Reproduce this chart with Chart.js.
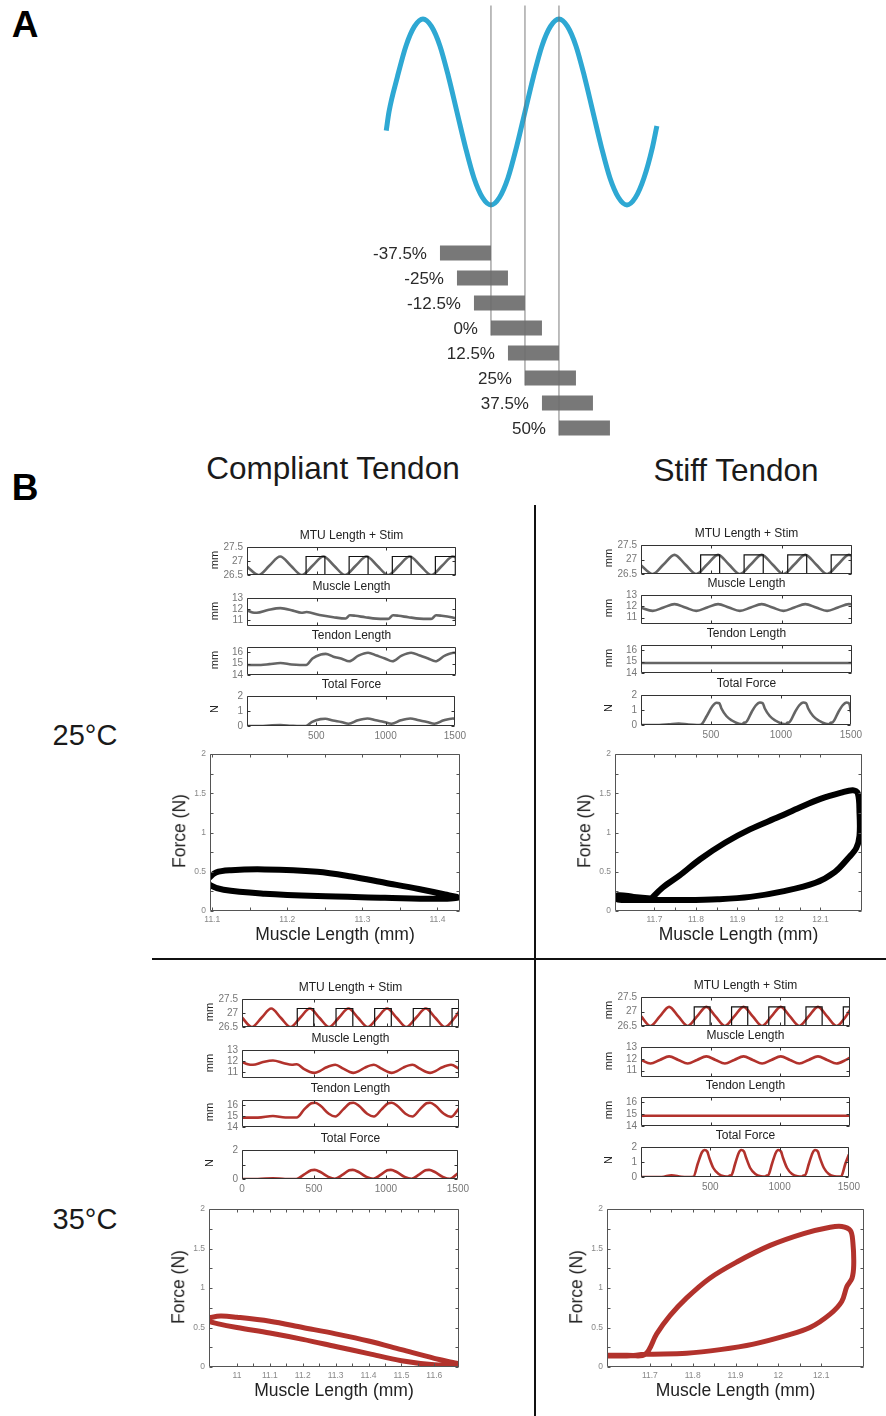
<!DOCTYPE html>
<html>
<head>
<meta charset="utf-8">
<script src="https://cdn.jsdelivr.net/npm/chart.js"></script>
<style>
body { margin: 0; background: #fff; }
#page { position: relative; width: 886px; height: 1416px; overflow: hidden; font-family: "Liberation Sans", Arial, sans-serif; color: #1a1a1a; }
.cv { position: absolute; }
.txt { position: absolute; white-space: nowrap; line-height: 1; }
.rule { position: absolute; background: #111; }
</style>
</head>
<body>
<div id="page"></div>
<script>
// ---------- panel A : stimulus phase ----------
var phaseX = [-77, -75, -68.75, -62.5, -56.25, -50, -43.75, -37.5, -31.25, -25, -18.75, -12.5, -6.25, 0, 6.25, 12.5, 18.75, 25, 31.25, 37.5, 43.75, 50, 56.25, 62.5, 68.75, 75, 81.25, 87.5, 93.75, 100, 106.25, 112.5, 118.75, 122];
var sineY = [-0.2, 0, 0.38, 0.71, 0.92, 1, 0.92, 0.71, 0.38, 0, -0.38, -0.71, -0.92, -1, -0.92, -0.71, -0.38, 0, 0.38, 0.71, 0.92, 1, 0.92, 0.71, 0.38, 0, -0.38, -0.71, -0.92, -1, -0.92, -0.71, -0.38, -0.15];
var offsets = [-37.5, -25, -12.5, 0, 12.5, 25, 37.5, 50];
var offsetLabels = ['-37.5%', '-25%', '-12.5%', '0%', '12.5%', '25%', '37.5%', '50%'];
var stimDuty = 37.5;
var markers = [0, 25, 50];

// ---------- panel B : time series (ms) ----------
var timeTicks = [0, 500, 1000, 1500];

// MTU length, 25 C and 35 C
var t25 = [0, 83, 160, 238, 315, 393, 470, 548, 625, 703, 780, 858, 935, 1013, 1090, 1168, 1245, 1323, 1400, 1478, 1500];
var mtu25 = [26.8, 26.5, 26.83, 27.16, 26.83, 26.5, 26.83, 27.16, 26.83, 26.5, 26.83, 27.16, 26.83, 26.5, 26.83, 27.16, 26.83, 26.5, 26.83, 27.16, 27.13];
var t35 = [0, 68, 135, 202, 268, 335, 402, 469, 535, 602, 669, 736, 802, 869, 936, 1003, 1069, 1136, 1203, 1270, 1336, 1403, 1470, 1500];
var mtu35 = [26.84, 26.5, 26.83, 27.16, 26.83, 26.5, 26.83, 27.16, 26.83, 26.5, 26.83, 27.16, 26.83, 26.5, 26.83, 27.16, 26.83, 26.5, 26.83, 27.16, 26.83, 26.5, 26.83, 27.05];

// stimulation on / off times
var stimOn25 = [424, 733, 1043, 1352];
var stimOff25 = [559, 869, 1178, 1495];
var stimOn35 = [382, 650, 917, 1184, 1452];
var stimOff35 = [496, 766, 1032, 1300];
var stimLow = 26.5, stimHigh = 27.16;

// 25 C compliant tendon
var tlMuscleT = [0, 40, 70, 150, 240, 330, 390, 428, 520, 620, 708, 738, 778, 848, 928, 998, 1018, 1048, 1088, 1158, 1238, 1308, 1327, 1357, 1397, 1467, 1500];
var tlMuscle = [11.9, 11.68, 11.65, 11.9, 12.08, 11.85, 11.65, 11.72, 11.45, 11.25, 11.13, 11.43, 11.38, 11.25, 11.12, 11.1, 11.12, 11.43, 11.38, 11.25, 11.12, 11.1, 11.12, 11.43, 11.38, 11.25, 11.15];
var tlTendonT = [0, 100, 160, 240, 320, 380, 424, 470, 530, 565, 620, 680, 733, 800, 869, 930, 990, 1043, 1110, 1178, 1240, 1300, 1352, 1420, 1485, 1500];
var tlTendon = [14.88, 14.88, 14.95, 15.05, 14.92, 14.88, 14.88, 15.45, 15.8, 15.85, 15.6, 15.42, 15.2, 15.7, 15.95, 15.7, 15.45, 15.2, 15.7, 15.95, 15.7, 15.45, 15.2, 15.7, 15.95, 15.93];
var tlForce = [0, 0, 0.03, 0.06, 0.02, 0, 0, 0.28, 0.46, 0.48, 0.36, 0.27, 0.15, 0.38, 0.5, 0.38, 0.27, 0.15, 0.38, 0.5, 0.38, 0.27, 0.15, 0.38, 0.5, 0.49];

// 25 C stiff tendon
var trMuscle = [11.88, 11.6, 11.9, 12.2, 11.9, 11.6, 11.9, 12.2, 11.9, 11.6, 11.9, 12.2, 11.9, 11.6, 11.9, 12.2, 11.9, 11.6, 11.9, 12.2, 12.18];
var stiffTendonT = [0, 1500];
var stiffTendon = [14.87, 14.87];
var trForceT = [0, 130, 200, 270, 340, 400, 428, 470, 510, 540, 560, 575, 610, 650, 700, 725, 735, 750, 790, 820, 850, 870, 885, 920, 960, 1010, 1035, 1045, 1060, 1100, 1130, 1160, 1180, 1195, 1230, 1270, 1320, 1345, 1355, 1370, 1410, 1440, 1470, 1490, 1500];
var trForce = [0, 0, 0.05, 0.1, 0.03, 0, 0.02, 0.6, 1.25, 1.48, 1.45, 1.1, 0.6, 0.3, 0.08, 0.05, 0.15, 0.18, 0.85, 1.3, 1.5, 1.45, 1.1, 0.6, 0.3, 0.08, 0.05, 0.15, 0.18, 0.85, 1.3, 1.5, 1.45, 1.1, 0.6, 0.3, 0.08, 0.05, 0.15, 0.18, 0.85, 1.3, 1.5, 1.4, 0.85];

// 35 C compliant tendon
var blMuscleT = [0, 40, 76, 140, 214, 290, 345, 378, 430, 470, 500, 540, 580, 645, 700, 745, 770, 810, 850, 912, 965, 1010, 1035, 1075, 1115, 1178, 1230, 1275, 1300, 1340, 1380, 1445, 1500];
var blMuscle = [11.9, 11.7, 11.65, 11.88, 12.05, 11.8, 11.65, 11.7, 11.25, 11.0, 10.92, 11.1, 11.4, 11.65, 11.3, 11.0, 10.92, 11.1, 11.4, 11.65, 11.3, 11.0, 10.92, 11.1, 11.4, 11.65, 11.3, 11.0, 10.92, 11.1, 11.4, 11.65, 11.3];
var blTendonT = [0, 110, 214, 300, 378, 430, 480, 505, 545, 600, 645, 700, 745, 770, 810, 865, 912, 965, 1010, 1035, 1075, 1130, 1178, 1230, 1275, 1300, 1340, 1395, 1445, 1500];
var blTendon = [14.85, 14.85, 15.0, 14.86, 14.86, 15.6, 16.15, 16.2, 15.9, 15.2, 14.95, 15.6, 16.15, 16.2, 15.9, 15.2, 14.95, 15.6, 16.15, 16.2, 15.9, 15.2, 14.95, 15.6, 16.15, 16.2, 15.9, 15.2, 14.92, 15.7];
var blForce = [0, 0, 0.05, 0, 0, 0.3, 0.6, 0.63, 0.48, 0.15, 0.02, 0.3, 0.6, 0.63, 0.48, 0.15, 0.02, 0.3, 0.6, 0.63, 0.48, 0.15, 0.02, 0.3, 0.6, 0.63, 0.48, 0.15, 0.01, 0.4];

// 35 C stiff tendon
var brMuscle = [11.9, 11.6, 11.9, 12.2, 11.9, 11.6, 11.9, 12.2, 11.9, 11.6, 11.9, 12.2, 11.9, 11.6, 11.9, 12.2, 11.9, 11.6, 11.9, 12.2, 11.9, 11.6, 11.9, 12.1];
var brForceT = [0, 150, 220, 290, 340, 378, 410, 440, 458, 478, 492, 522, 560, 600, 630, 640, 652, 680, 705, 723, 743, 758, 788, 825, 865, 900, 907, 918, 946, 972, 990, 1010, 1024, 1054, 1090, 1130, 1165, 1172, 1184, 1212, 1238, 1256, 1276, 1290, 1320, 1355, 1395, 1435, 1445, 1475, 1500];
var brForce = [0, 0, 0.12, 0.02, 0, 0.02, 0.9, 1.65, 1.8, 1.7, 1.3, 0.6, 0.2, 0.05, 0.03, 0.1, 0.12, 0.9, 1.6, 1.8, 1.7, 1.3, 0.6, 0.2, 0.05, 0.03, 0.1, 0.12, 0.9, 1.6, 1.8, 1.7, 1.3, 0.6, 0.2, 0.05, 0.03, 0.1, 0.12, 0.9, 1.6, 1.8, 1.7, 1.3, 0.6, 0.2, 0.05, 0.03, 0.05, 0.9, 1.5];

// ---------- work loops (muscle length mm, force N) ----------
var tlLoopX = [11.093, 11.105, 11.125, 11.17, 11.24, 11.285, 11.33, 11.375, 11.41, 11.427, 11.395, 11.33, 11.24, 11.17, 11.115, 11.097, 11.093];
var tlLoopY = [0.4, 0.49, 0.52, 0.53, 0.5, 0.44, 0.36, 0.28, 0.21, 0.17, 0.155, 0.17, 0.19, 0.22, 0.27, 0.33, 0.4];
var trLoopX = [11.691, 11.72, 11.76, 11.81, 11.87, 11.93, 12.0, 12.05, 12.1, 12.15, 12.178, 12.19, 12.194, 12.194, 12.186, 12.166, 12.135, 12.088, 12.009, 11.931, 11.852, 11.774, 11.691, 11.64, 11.61, 11.612, 11.65, 11.691];
var trLoopY = [0.15, 0.3, 0.45, 0.66, 0.87, 1.04, 1.2, 1.32, 1.43, 1.51, 1.54, 1.5, 1.25, 0.96, 0.8, 0.67, 0.5, 0.36, 0.25, 0.18, 0.15, 0.14, 0.14, 0.14, 0.15, 0.2, 0.18, 0.16];
var blLoopX = [10.912, 10.95, 11.0, 11.1, 11.2, 11.3, 11.4, 11.5, 11.6, 11.68, 11.6, 11.5, 11.4, 11.3, 11.2, 11.1, 11.0, 10.94, 10.915, 10.912];
var blLoopY = [0.62, 0.645, 0.63, 0.58, 0.5, 0.42, 0.33, 0.22, 0.11, 0.03, 0.03, 0.08, 0.17, 0.26, 0.35, 0.43, 0.5, 0.55, 0.58, 0.62];
var brLoopX = [11.6, 11.646, 11.689, 11.716, 11.747, 11.786, 11.84, 11.903, 11.981, 12.059, 12.121, 12.148, 12.168, 12.174, 12.176, 12.172, 12.16, 12.148, 12.121, 12.074, 12.02, 11.942, 11.864, 11.786, 11.689, 11.646, 11.6];
var brLoopY = [0.15, 0.15, 0.16, 0.42, 0.65, 0.875, 1.125, 1.33, 1.54, 1.69, 1.77, 1.78, 1.73, 1.58, 1.29, 1.125, 1.02, 0.83, 0.67, 0.5, 0.4, 0.29, 0.22, 0.175, 0.16, 0.14, 0.14];
var forceTicks = [0, 0.5, 1, 1.5, 2];

var GRAY = '#656565', RED = '#b2322c';

Chart.defaults.font.family = '"Liberation Sans", Arial, sans-serif';
Chart.defaults.animation = false;
Chart.defaults.plugins.legend.display = false;
Chart.defaults.plugins.tooltip.enabled = false;
Chart.defaults.elements.point.radius = 0;

// box round the plot with small ticks pointing inwards (matlab style)
Chart.register({
  id: 'frame',
  afterDatasetsDraw: function (chart, args, o) {
    if (!o || !o.color) return;
    var a = chart.chartArea, ctx = chart.ctx, sx = chart.scales.x, sy = chart.scales.y;
    var l = Math.round(a.left) + 0.5, r = Math.round(a.right) - 0.5, t = Math.round(a.top) + 0.5, b = Math.round(a.bottom) - 0.5;
    ctx.save();
    ctx.strokeStyle = o.color;
    ctx.lineWidth = 1;
    ctx.beginPath();
    ctx.rect(l, t, r - l, b - t);
    o.xTicks.forEach(function (v) {
      var p = Math.round(sx.getPixelForValue(v)) + 0.5;
      ctx.moveTo(p, b); ctx.lineTo(p, b - o.len);
      ctx.moveTo(p, t); ctx.lineTo(p, t + o.len);
    });
    o.yTicks.forEach(function (v) {
      var p = Math.round(sy.getPixelForValue(v)) + 0.5;
      ctx.moveTo(l, p); ctx.lineTo(l + o.len, p);
      ctx.moveTo(r, p); ctx.lineTo(r - o.len, p);
    });
    ctx.stroke();
    ctx.restore();
  }
});

var page = document.getElementById('page');

function addText(s, x, y, size, extra) {
  extra = extra || {};
  var d = document.createElement('div');
  d.className = 'txt';
  d.textContent = s;
  d.style.left = x + 'px';
  d.style.top = y + 'px';
  d.style.fontSize = size + 'px';
  d.style.transform = 'translate(-50%,-50%)' + (extra.rotate ? ' rotate(-90deg)' : '');
  if (extra.bold) d.style.fontWeight = 'bold';
  if (extra.color) d.style.color = extra.color;
  page.appendChild(d);
}

function addRule(l, t, w, h) {
  var d = document.createElement('div');
  d.className = 'rule';
  d.style.left = l + 'px'; d.style.top = t + 'px';
  d.style.width = w + 'px'; d.style.height = h + 'px';
  page.appendChild(d);
}

function addCanvas(l, t, w, h) {
  var d = document.createElement('div');
  d.className = 'cv';
  d.style.left = l + 'px'; d.style.top = t + 'px';
  d.style.width = w + 'px'; d.style.height = h + 'px';
  var c = document.createElement('canvas');
  d.appendChild(c);
  page.appendChild(d);
  return c;
}

function pts(xs, ys) {
  return xs.map(function (x, i) { return { x: x, y: ys[i] }; });
}

function stimPts(on, off) {
  var p = [{ x: 0, y: stimLow }];
  on.forEach(function (t, i) {
    p.push({ x: t, y: stimLow }, { x: t, y: stimHigh });
    if (i < off.length) p.push({ x: off[i], y: stimHigh }, { x: off[i], y: stimLow });
    else p.push({ x: 1500, y: stimHigh });
  });
  if (on.length === off.length) p.push({ x: 1500, y: stimLow });
  return p;
}

function series(xs, ys, color) {
  return { data: pts(xs, ys), borderColor: color, borderWidth: 2.6, cubicInterpolationMode: 'monotone' };
}

function mids(arr) {
  var out = arr.slice();
  for (var i = 0; i < arr.length - 1; i++) out.push((arr[i] + arr[i + 1]) / 2);
  return out;
}

function tickList(vals) {
  return function (s) { s.ticks = vals.map(function (v) { return { value: v }; }); };
}

function smallPlot(box, yr, yTicks, sets, title, yTitle, xLabels, showZero) {
  var yW = 40, padT = 6, padR = 14, padB = 8, xH = xLabels ? 13 : 1;
  var c = addCanvas(box[0] - yW, box[2] - padT, box[1] - box[0] + yW + padR, box[3] - box[2] + padT + xH + padB);
  new Chart(c, {
    type: 'line',
    data: { datasets: sets },
    options: {
      responsive: true,
      maintainAspectRatio: false,
      layout: { padding: { left: 0, right: padR, top: padT, bottom: padB } },
      plugins: { frame: { color: '#333', len: 3, xTicks: [500, 1000], yTicks: yTicks } },
      scales: {
        x: {
          type: 'linear', min: 0, max: 1500,
          grid: { display: false, drawTicks: false }, border: { display: false },
          afterBuildTicks: tickList(timeTicks),
          ticks: {
            display: !!xLabels, padding: 4, color: '#777', font: { size: 10 }, maxRotation: 0, autoSkip: false,
            callback: function (v) { return (v === 0 && !showZero) ? '' : String(v); }
          },
          afterFit: function (s) { s.height = xH; }
        },
        y: {
          min: yr[0], max: yr[1],
          grid: { display: false, drawTicks: false }, border: { display: false },
          afterBuildTicks: tickList(yTicks),
          ticks: { padding: 4, color: '#777', font: { size: 10 }, callback: function (v) { return String(v); } },
          afterFit: function (s) { s.width = yW; }
        }
      }
    }
  });
  addText(title, (box[0] + box[1]) / 2, box[2] - 8.5, 12, { color: '#222' });
  addText(yTitle, box[0] - 33, (box[2] + box[3]) / 2, 11, { rotate: true, color: '#222' });
}

function loopPlot(box, xr, xTicks, lx, ly, color, width) {
  var yW = 22, padT = 6, padR = 10, padB = 6, xH = 14;
  var c = addCanvas(box[0] - yW, box[2] - padT, box[1] - box[0] + yW + padR, box[3] - box[2] + padT + xH + padB);
  new Chart(c, {
    type: 'line',
    data: { datasets: [{ data: pts(lx, ly), borderColor: color, borderWidth: width, tension: 0.35, borderJoinStyle: 'round', borderCapStyle: 'round' }] },
    options: {
      responsive: true,
      maintainAspectRatio: false,
      layout: { padding: { left: 0, right: padR, top: padT, bottom: padB } },
      plugins: { frame: { color: '#555', len: 3, xTicks: mids(xTicks), yTicks: mids(forceTicks) } },
      scales: {
        x: {
          type: 'linear', min: xr[0], max: xr[1],
          grid: { display: false, drawTicks: false }, border: { display: false },
          afterBuildTicks: tickList(xTicks),
          ticks: { display: true, padding: 4, color: '#888', font: { size: 8.5 }, maxRotation: 0, autoSkip: false, callback: function (v) { return String(v); } },
          afterFit: function (s) { s.height = xH; }
        },
        y: {
          min: 0, max: 2,
          grid: { display: false, drawTicks: false }, border: { display: false },
          afterBuildTicks: tickList(forceTicks),
          ticks: { padding: 4, color: '#888', font: { size: 8.5 }, callback: function (v) { return String(v); } },
          afterFit: function (s) { s.width = yW; }
        }
      }
    }
  });
  addText('Force (N)', box[0] - 30, (box[2] + box[3]) / 2, 17.5, { rotate: true, color: '#222' });
  addText('Muscle Length (mm)', (box[0] + box[1]) / 2, box[3] + 24, 17.5, { color: '#222' });
}

// ---------- panel A chart ----------
(function () {
  var c = addCanvas(360, 0, 300, 445);
  var sets = [];
  markers.forEach(function (m) {
    var i = offsets.indexOf(m);
    sets.push({ data: [{ x: m, y: -9.9 }, { x: m, y: i + 0.3 }], yAxisID: 'yb', borderColor: 'rgba(110,110,110,0.75)', borderWidth: 1.2 });
  });
  sets.push({ data: pts(phaseX, sineY), yAxisID: 'y', borderColor: '#2ea8d3', borderWidth: 5, cubicInterpolationMode: 'monotone' });
  offsets.forEach(function (o, i) {
    sets.push({ data: [{ x: o, y: i }, { x: o + stimDuty, y: i }], yAxisID: 'yb', borderColor: '#787878', borderWidth: 15, borderCapStyle: 'butt' });
  });
  new Chart(c, {
    type: 'line',
    data: { datasets: sets },
    options: {
      responsive: true,
      maintainAspectRatio: false,
      layout: { padding: 0 },
      scales: {
        x: { type: 'linear', display: false, min: -96.3, max: 124.3 },
        y: { display: false, min: -3.581, max: 1.204 },
        yb: { display: false, min: -10.12, max: 7.68, reverse: true }
      }
    },
    plugins: [{
      id: 'barLabels',
      afterDatasetsDraw: function (chart) {
        var ctx = chart.ctx, sx = chart.scales.x, sy = chart.scales.yb;
        ctx.save();
        ctx.font = '17px "Liberation Sans", Arial, sans-serif';
        ctx.fillStyle = '#2a2a2a';
        ctx.textAlign = 'right';
        ctx.textBaseline = 'middle';
        offsets.forEach(function (o, i) {
          ctx.fillText(offsetLabels[i], sx.getPixelForValue(o) - 13, sy.getPixelForValue(i) + 1);
        });
        ctx.restore();
      }
    }]
  });
})();

// ---------- panel B ----------
var mmTicks = { mtu: [26.5, 27, 27.5], mus: [11, 12, 13], ten: [14, 15, 16], frc: [0, 1, 2] };
var rng = { mtu: [26.5, 27.5], mus: [10.45, 13], ten: [14, 16.45], frc: [0, 2] };

function quadrant(l, r, rows, color, mt, mv, stim, mus, ten, frc, showZero) {
  var stimSet = { data: stim, borderColor: '#111', borderWidth: 1.2, tension: 0 };
  smallPlot([l, r, rows[0], rows[1]], rng.mtu, mmTicks.mtu, [stimSet, series(mt, mv, color)], 'MTU Length + Stim', 'mm', false);
  smallPlot([l, r, rows[2], rows[3]], rng.mus, mmTicks.mus, [series(mus[0], mus[1], color)], 'Muscle Length', 'mm', false);
  smallPlot([l, r, rows[4], rows[5]], rng.ten, mmTicks.ten, [series(ten[0], ten[1], color)], 'Tendon Length', 'mm', false);
  smallPlot([l, r, rows[6], rows[7]], rng.frc, mmTicks.frc, [series(frc[0], frc[1], color)], 'Total Force', 'N', true, showZero);
}

quadrant(247, 456, [543, 576, 594, 627, 643, 676, 692, 726], GRAY, t25, mtu25, stimPts(stimOn25, stimOff25),
  [tlMuscleT, tlMuscle], [tlTendonT, tlTendon], [tlTendonT, tlForce], false);
quadrant(641, 852, [541, 575, 591, 625, 641, 674, 691, 725], GRAY, t25, mtu25, stimPts(stimOn25, stimOff25),
  [t25, trMuscle], [stiffTendonT, stiffTendon], [trForceT, trForce], false);
quadrant(242, 459, [995, 1028, 1046, 1079, 1096, 1128, 1146, 1179], RED, t35, mtu35, stimPts(stimOn35, stimOff35),
  [blMuscleT, blMuscle], [blTendonT, blTendon], [blTendonT, blForce], true);
quadrant(641, 850, [993, 1027, 1043, 1078, 1093, 1127, 1143, 1177], RED, t35, mtu35, stimPts(stimOn35, stimOff35),
  [t35, brMuscle], [stiffTendonT, stiffTendon], [brForceT, brForce], false);

loopPlot([210, 460, 751, 911], [11.097, 11.43], [11.1, 11.2, 11.3, 11.4], tlLoopX, tlLoopY, '#000', 6);
loopPlot([615, 862, 751, 911], [11.605, 12.2], [11.7, 11.8, 11.9, 12, 12.1], trLoopX, trLoopY, '#000', 6);
loopPlot([209, 459, 1206, 1367], [10.915, 11.675], [11, 11.1, 11.2, 11.3, 11.4, 11.5, 11.6], blLoopX, blLoopY, RED, 5);
loopPlot([607, 864, 1206, 1367], [11.6, 12.2], [11.7, 11.8, 11.9, 12, 12.1], brLoopX, brLoopY, RED, 5);

// ---------- labels and dividers ----------
addText('A', 25, 24, 37, { bold: true, color: '#000' });
addText('B', 25, 487, 37, { bold: true, color: '#000' });
addText('Compliant Tendon', 333, 469, 31.5);
addText('Stiff Tendon', 736, 471, 31.5);
addText('25°C', 85, 735, 29);
addText('35°C', 85, 1219, 29);
addRule(534, 505, 2, 911);
addRule(152, 958, 734, 2);
</script>
</body>
</html>
